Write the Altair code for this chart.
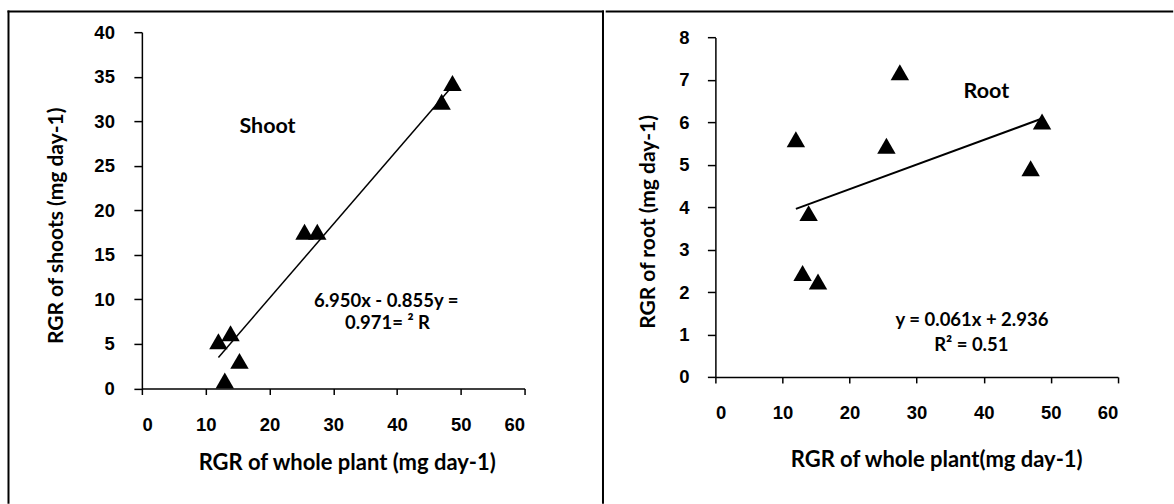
import altair as alt
import pandas as pd

# ---- data ----
whole_plant = [12.0, 13.0, 13.9, 15.3, 25.5, 27.5, 47.0, 48.7]
shoot_rgr = [5.3, 0.9, 6.2, 3.1, 17.6, 17.6, 32.2, 34.3]
root_rgr = [5.6, 2.45, 3.86, 2.25, 5.45, 7.18, 4.92, 6.02]

shoot_trend_x = [12.0, 48.7]
shoot_trend_y = [3.48, 33.96]
root_trend_x = [12.0, 48.7]
root_trend_y = [3.96, 6.09]

x_ticks = [0, 10, 20, 30, 40, 50, 60]
shoot_ticks = [0, 5, 10, 15, 20, 25, 30, 35, 40]
root_ticks = [0, 1, 2, 3, 4, 5, 6, 7, 8]

shoot_text = ["Shoot", "6.950x - 0.855y =", "0.971= ² R"]
shoot_text_x = [19.7, 38.3, 38.5]
shoot_text_y = [29.3, 9.8, 7.36]
shoot_text_size = [21.5, 18.5, 18.5]

root_text = ["Root", "y = 0.061x + 2.936", "R² = 0.51"]
root_text_x = [40.4, 38.25, 38.15]
root_text_y = [6.71, 1.35, 0.76]
root_text_size = [21.5, 18.5, 18.5]

LABEL_FONT = "Liberation Sans"
TITLE_FONT = "Lato"

pts_shoot = pd.DataFrame({"x": whole_plant, "y": shoot_rgr})
pts_root = pd.DataFrame({"x": whole_plant, "y": root_rgr})
tr_shoot = pd.DataFrame({"x": shoot_trend_x, "y": shoot_trend_y})
tr_root = pd.DataFrame({"x": root_trend_x, "y": root_trend_y})
tx_shoot = pd.DataFrame({"t": shoot_text, "x": shoot_text_x, "y": shoot_text_y, "s": shoot_text_size})
tx_root = pd.DataFrame({"t": root_text, "x": root_text_x, "y": root_text_y, "s": root_text_size})
one = alt.Data(values=[{"a": 1}])


def panel(pts, tr, tx, y_ticks, y_max, w, h, y_range, xt, yt, xlab_pad, ylab_pad,
          xtitle_pos, ytitle_pos, line_w, frame):
    xs = alt.Scale(domain=[0, 60], nice=False, zero=False)
    ys = alt.Scale(domain=[0, y_max], nice=False, zero=False, range=y_range)
    x_axis = alt.Axis(values=x_ticks, title=xt, grid=False, tickSize=6,
                      labelPadding=xlab_pad, labelBaseline="middle",
                      titleX=xtitle_pos[0], titleY=xtitle_pos[1], titleFontSize=22,
                      titleAlign="center", titleBaseline="middle")
    y_axis = alt.Axis(values=y_ticks, title=yt, grid=False, tickSize=8,
                      labelPadding=ylab_pad, titleFontSize=21,
                      titleX=ytitle_pos[0], titleY=ytitle_pos[1], titleAngle=270,
                      titleAlign="center", titleBaseline="middle")
    points = alt.Chart(pts).mark_point(
        shape="triangle-up", filled=True, color="black", opacity=1, size=340
    ).encode(
        x=alt.X("x:Q", scale=xs, axis=x_axis),
        y=alt.Y("y:Q", scale=ys, axis=y_axis),
    )
    line = alt.Chart(tr).mark_line(color="black", strokeWidth=line_w).encode(
        x=alt.X("x:Q", scale=xs), y=alt.Y("y:Q", scale=ys)
    )
    text = alt.Chart(tx).mark_text(
        font=TITLE_FONT, fontWeight="bold", color="black",
        align="center", baseline="middle"
    ).encode(
        x=alt.X("x:Q", scale=xs), y=alt.Y("y:Q", scale=ys), text="t:N",
        size=alt.Size("s:Q", scale=None, legend=None),
    )
    frames = []
    for f in frame:
        enc = {k: alt.value(v) for k, v in f.items()}
        frames.append(
            alt.Chart(one).mark_rule(color="black", strokeWidth=2, strokeCap="square").encode(**enc)
        )
    return alt.layer(points, line, text, *frames).properties(width=w, height=h)


left = panel(
    pts_shoot, tr_shoot, tx_shoot, shoot_ticks, 40, 383, 356.6, [356.6, 0],
    "RGR of whole plant (mg day-1)", "RGR of shoots (mg day-1)",
    30, 19.5, (205, 74.4), (-85.8, 193.3), 1.5,
    [
        {"x": -133.5, "x2": 461.5, "y": -20.7},
        {"x": -133.5, "y": -20.7, "y2": 471},
        {"x": 461.5, "y": -20.7, "y2": 471},
    ],
)

right = panel(
    pts_root, tr_root, tx_root, root_ticks, 8, 402.8, 345, [345, 5.3],
    "RGR of whole plant(mg day-1)", "RGR of root (mg day-1)",
    30, 18.5, (221, 82.9), (-66.8, 189.3), 2,
    [
        {"x": -108.8, "x2": 457.2, "y": -20.7},
    ],
)

chart = alt.hconcat(left, right, spacing=0).properties(
    padding={"left": 7, "top": 9, "right": 0, "bottom": 0},
    background="white",
).configure_view(stroke=None).configure_axis(
    domainColor="black", domainWidth=1.5, tickColor="black", tickWidth=1.5,
    labelFont=LABEL_FONT, labelFontWeight="bold", labelFontSize=18.5, labelColor="black",
    titleFont=TITLE_FONT, titleFontWeight="bold", titleColor="black",
)

chart.save("out.html", embed_options={"renderer": "svg", "actions": False})
